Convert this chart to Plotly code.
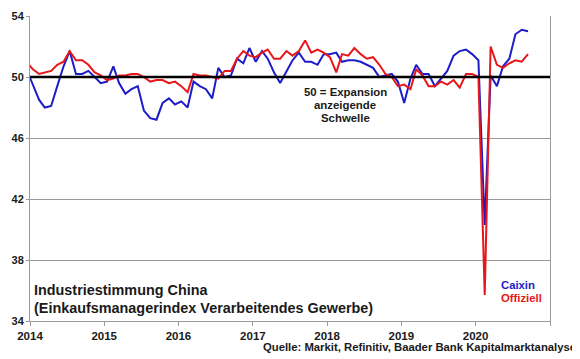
import pandas as pd
import plotly.graph_objects as go

# Monthly PMI values, Dec 2013 .. Sep 2020 (plotted at mid-month)
offiziell = [51.0,
             50.5, 50.2, 50.3, 50.4, 50.8, 51.0, 51.7, 51.1, 51.1, 50.8, 50.3, 50.1,
             49.8, 49.9, 50.1, 50.1, 50.2, 50.2, 50.0, 49.7, 49.8, 49.8, 49.6, 49.7,
             49.4, 49.0, 50.2, 50.1, 50.1, 50.0, 49.9, 50.4, 50.4, 51.2, 51.7, 51.4,
             51.3, 51.6, 51.8, 51.2, 51.2, 51.7, 51.4, 51.7, 52.4, 51.6, 51.8, 51.6,
             51.3, 50.3, 51.5, 51.4, 51.9, 51.5, 51.2, 51.3, 50.8, 50.2, 50.0, 49.4,
             49.5, 49.2, 50.5, 50.1, 49.4, 49.4, 49.7, 49.5, 49.8, 49.3, 50.2, 50.2,
             50.0, 35.7, 52.0, 50.8, 50.6, 50.9, 51.1, 51.0, 51.5]
caixin = [50.5,
          49.5, 48.5, 48.0, 48.1, 49.4, 50.7, 51.7, 50.2, 50.2, 50.4, 50.0, 49.6,
          49.7, 50.7, 49.6, 48.9, 49.2, 49.4, 47.8, 47.3, 47.2, 48.3, 48.6, 48.2,
          48.4, 48.0, 49.7, 49.4, 49.2, 48.6, 50.6, 50.0, 50.1, 51.2, 50.9, 51.9,
          51.0, 51.7, 51.2, 50.3, 49.6, 50.4, 51.1, 51.6, 51.0, 51.0, 50.8, 51.5,
          51.5, 51.6, 51.0, 51.1, 51.1, 51.0, 50.8, 50.6, 50.0, 50.1, 50.2, 49.7,
          48.3, 49.9, 50.8, 50.2, 50.2, 49.4, 49.9, 50.4, 51.4, 51.7, 51.8, 51.5,
          51.1, 40.3, 50.1, 49.4, 50.7, 51.2, 52.8, 53.1, 53.0]
months = pd.date_range("2013-12-01", periods=len(caixin), freq="MS") + pd.Timedelta(days=14)

years = [2014, 2015, 2016, 2017, 2018, 2019, 2020, 2021]
year_labels = ["2014", "2015", "2016", "2017", "2018", "2019", "2020", ""]
y_ticks = [34, 38, 42, 46, 50, 54]
threshold = 50

FONT = "Liberation Sans, Arial, sans-serif"
TXT = "#1a1a1a"
BLUE = "#1c1cc8"
RED = "#e8161b"
GREY = "#9a9a9a"

fig = go.Figure()
fig.add_trace(go.Scatter(x=months, y=caixin, mode="lines", name="Caixin",
                         line=dict(color=BLUE, width=2)))
fig.add_trace(go.Scatter(x=months, y=offiziell, mode="lines", name="Offiziell",
                         line=dict(color=RED, width=2)))

fig.add_shape(type="line", xref="paper", x0=0, x1=1, yref="y", y0=threshold, y1=threshold,
              line=dict(color="black", width=2.5))

# the page body has an 8px margin, so the figure is a bit smaller than the window
fig.update_layout(
    width=572, height=351,
    margin=dict(l=22, r=30, t=8, b=38),
    paper_bgcolor="white", plot_bgcolor="white",
    showlegend=False,
    font=dict(family=FONT, color=TXT, size=11),
    xaxis=dict(type="date", range=["2014-01-01", "2021-01-01"],
               tickvals=[f"{y}-01-01" for y in years], ticktext=[f"<b>{t}</b>" for t in year_labels],
               showgrid=False, showline=True, linecolor=GREY, linewidth=1,
               ticks="outside", ticklen=4, tickcolor=GREY, automargin=False,
               tickfont=dict(size=11.5, color=TXT), zeroline=False),
    yaxis=dict(range=[34, 54], tickvals=y_ticks, ticktext=[f"<b>{v}</b>" for v in y_ticks],
               showgrid=True, gridcolor=GREY, gridwidth=1,
               showline=True, linecolor=GREY, linewidth=1, mirror=True,
               ticks="outside", ticklen=3, tickcolor=GREY, automargin=False,
               tickfont=dict(size=11, color=TXT), zeroline=False),
)

def note(text, x, y, size, color=TXT, xanchor="left"):
    fig.add_annotation(xref="paper", yref="paper", x=x, y=y, xanchor=xanchor, yanchor="middle",
                       text=f"<b>{text}</b>", showarrow=False,
                       font=dict(size=size, color=color))

note("50 = Expansion", 0.606, 0.751, 11.4, xanchor="center")
note("anzeigende", 0.606, 0.708, 11.4, xanchor="center")
note("Schwelle", 0.606, 0.666, 11.4, xanchor="center")

note("Industriestimmung China", 0.004, 0.102, 14.4)
note("(Einkaufsmanagerindex Verarbeitendes Gewerbe)", 0.004, 0.043, 14.4)

note("Caixin", 0.902, 0.118, 11.3, color=BLUE)
note("Offiziell", 0.902, 0.075, 11.3, color=RED)

note("Quelle: Markit, Refinitiv, Baader Bank Kapitalmarktanalyse", 1.054, -0.085, 11.3,
     xanchor="right")

fig.write_html("out.html")
